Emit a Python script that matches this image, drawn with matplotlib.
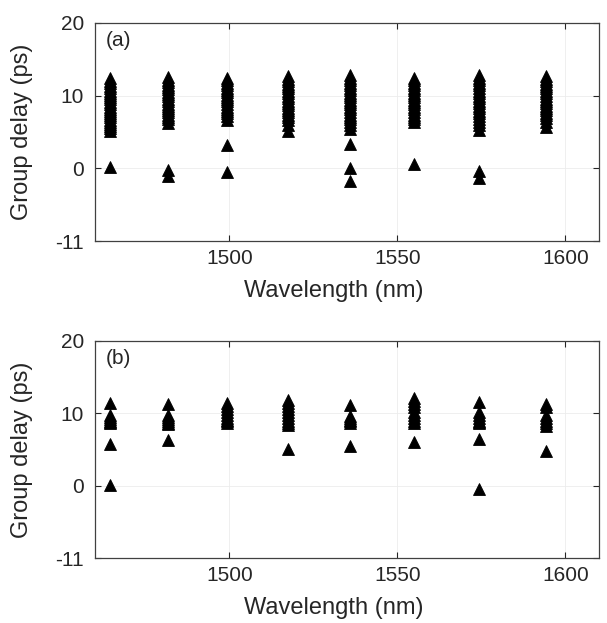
import matplotlib
matplotlib.use("Agg")
import matplotlib.pyplot as plt

plt.rcParams['font.family'] = ['Liberation Sans', 'DejaVu Sans']

wavelengths = [1464.5, 1481.7, 1499.4, 1517.4, 1535.9, 1555.0, 1574.2, 1594.1]

delays_a = [
    [12.4, 12.0, 11.7, 11.3, 11.0, 10.7, 10.4, 10.1, 9.8, 9.5, 9.1, 8.8, 8.5,
     8.2, 7.9, 7.6, 7.3, 7.0, 6.7, 6.4, 6.1, 5.8, 5.5, 5.2, 0.2],
    [12.6, 12.2, 11.9, 11.5, 11.2, 10.9, 10.5, 10.2, 9.9, 9.6, 9.2, 8.9, 8.6,
     8.3, 8.0, 7.7, 7.4, 7.1, 6.8, 6.2, -0.2, -1.1],
    [12.5, 12.1, 11.8, 11.4, 11.1, 10.8, 10.5, 10.1, 9.8, 9.5, 9.2, 8.9, 8.5,
     8.2, 7.9, 7.6, 7.2, 6.7, 3.2, -0.55],
    [12.7, 12.3, 12.0, 11.6, 11.3, 11.0, 10.6, 10.3, 10.0, 9.7, 9.3, 9.0, 8.7,
     8.3, 8.0, 7.7, 7.3, 7.0, 6.6, 6.0, 5.2],
    [12.9, 12.5, 12.2, 11.8, 11.5, 11.1, 10.8, 10.4, 10.1, 9.8, 9.4, 9.1, 8.8,
     8.4, 8.1, 7.8, 7.4, 7.1, 6.8, 6.4, 6.0, 5.4, 3.4, 0.0, -1.7],
    [12.5, 12.1, 11.8, 11.4, 11.1, 10.8, 10.4, 10.1, 9.8, 9.4, 9.1, 8.8, 8.4,
     8.1, 7.8, 7.4, 7.1, 6.8, 6.4, 0.6],
    [12.9, 12.5, 12.1, 11.8, 11.4, 11.1, 10.7, 10.4, 10.0, 9.7, 9.3, 9.0, 8.6,
     8.3, 7.9, 7.6, 7.2, 6.8, 6.4, 5.9, 5.3, -0.4, -1.3],
    [12.7, 12.3, 12.0, 11.6, 11.3, 11.0, 10.6, 10.3, 10.0, 9.6, 9.3, 9.0, 8.6,
     8.3, 8.0, 7.6, 7.3, 6.9, 6.4, 5.7],
]

delays_b = [
    [11.4, 9.8, 9.5, 9.2, 9.0, 8.8, 8.7, 5.7, 0.1],
    [11.3, 9.8, 9.5, 9.2, 8.9, 8.7, 8.5, 6.3],
    [11.4, 11.0, 10.6, 10.2, 9.8, 9.4, 9.1, 8.9, 8.7],
    [11.8, 11.4, 11.0, 10.6, 10.2, 9.8, 9.4, 9.0, 8.7, 8.4, 5.1],
    [11.2, 9.7, 9.4, 9.1, 8.9, 8.7, 5.5],
    [12.1, 11.7, 11.3, 10.9, 10.2, 9.8, 9.4, 9.0, 8.7, 6.1],
    [11.6, 10.2, 9.8, 9.4, 9.0, 8.8, 8.6, 6.5, -0.5],
    [11.3, 10.9, 9.8, 9.4, 9.0, 8.6, 8.3, 4.75],
]

panel_labels = ['(a)', '(b)']
xticks = [1500, 1550, 1600]
yticks = [-10, 0, 10, 20]
ytick_labels = ['-11', '0', '10', '20']
xlabel = 'Wavelength (nm)'
ylabel = 'Group delay (ps)'

W, H = 607, 623
fig = plt.figure(figsize=(W / 100, H / 100), dpi=100)

axes_px = [(95, 23, 599, 241), (95, 341, 599, 558)]
txt_col = '#262626'

for (l, t, r, b), data, lab in zip(axes_px, [delays_a, delays_b], panel_labels):
    ax = fig.add_axes([l / W, 1 - b / H, (r - l) / W, (b - t) / H])
    for wl, vals in zip(wavelengths, data):
        ax.plot([wl] * len(vals), vals, linestyle='none', marker='^',
                color='black', markersize=8.5, markeredgewidth=0.6)
    ax.set_xlim(1460, 1610)
    ax.set_ylim(-10, 20)
    ax.set_xticks(xticks)
    ax.set_yticks(yticks)
    ax.set_yticklabels(ytick_labels)
    ax.grid(True, color='#ececec', linewidth=0.6)
    ax.set_axisbelow(True)
    ax.tick_params(direction='in', top=True, right=True, length=4,
                   width=0.8, color='#262626', labelsize=15, labelcolor=txt_col)
    ax.tick_params(axis='x', pad=6)
    ax.tick_params(axis='y', pad=8)
    for s in ax.spines.values():
        s.set_color('#404040')
        s.set_linewidth(0.9)
    ax.set_xlabel(xlabel, fontsize=17, color=txt_col)
    ax.set_ylabel(ylabel, fontsize=17, color=txt_col)
    ax.xaxis.set_label_coords(0.474, -0.18)
    ax.yaxis.set_label_coords(-0.123, 0.5)
    ax.text(0.022, 0.92, lab, transform=ax.transAxes, fontsize=15,
            color=txt_col, ha='left', va='center')

fig.savefig('out.png', dpi=100)
